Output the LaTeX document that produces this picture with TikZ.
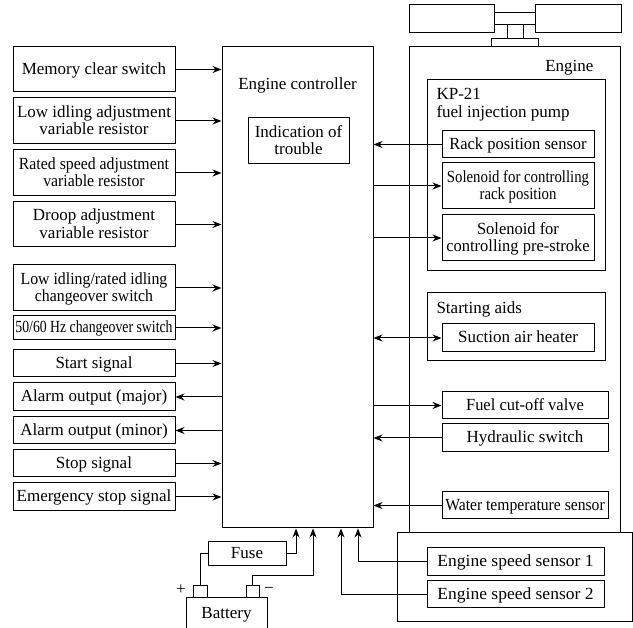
\documentclass[tikz,border=0pt]{standalone}
\usepackage{fontspec}
\setmainfont{Liberation Serif}
\usepackage{graphicx}
\usetikzlibrary{arrows.meta,calc}
\newcommand\tx[2][1]{\raisebox{-1.5pt}[\height][\depth]{\scalebox{#1}[1]{\begin{tabular}{@{}c@{}}#2\end{tabular}}}}
\begin{document}
\begin{tikzpicture}[x=1pt,y=-1pt,
  every node/.style={font=\fontsize{17}{17.5}\selectfont},
  box/.style={draw, line width=1pt, inner sep=0pt},
  ln/.style={line width=1pt},
  arr/.style={ln, -{Stealth[length=9pt,width=7pt]}},
  darr/.style={ln, {Stealth[length=9pt,width=7pt]}-{Stealth[length=9pt,width=7pt]}}]
\useasboundingbox (0,0) rectangle (633,628);
\fill[white] (0,0) rectangle (633,628);

% engine symbol on top
\draw[ln] (409,5) rectangle (494,33);
\draw[ln] (535,5) rectangle (621,33);
\draw[ln] (494,13) rectangle (535,25);
\draw[ln] (507,25) -- (507,39) (523,25) -- (523,39);
\draw[ln] (491,39) rectangle (538,47);

% engine controller
\node[box, minimum width=151pt, minimum height=481pt] (ctrl) at (297.5,287.5) {};
\node[anchor=base] (ctrllbl) at (297.5,90) {Engine controller};
\node[box, minimum width=101pt, minimum height=46pt] (ind) at (298.5,141) {\tx{Indication of\\trouble}};

% left boxes
\node[box, minimum width=162pt, minimum height=45pt] (mem) at (94,69.5) {\tx{Memory clear switch}};
\node[box, minimum width=162pt, minimum height=46pt] (lowadj) at (94,121) {\tx{Low idling adjustment\\variable resistor}};
\node[box, minimum width=162pt, minimum height=46pt] (rated) at (94,173) {\tx[0.93]{Rated speed adjustment\\variable resistor}};
\node[box, minimum width=162pt, minimum height=45pt] (droop) at (94,224.5) {\tx{Droop adjustment\\variable resistor}};
\node[box, minimum width=162pt, minimum height=46pt] (lowrated) at (94,288) {\tx[0.93]{Low idling/rated idling\\changeover switch}};
\node[box, minimum width=162pt, minimum height=24pt] (hz) at (94,328) {\tx[0.81]{50/60 Hz changeover switch}};
\node[box, minimum width=162pt, minimum height=27pt] (start) at (94,363.5) {\tx{Start signal}};
\node[box, minimum width=162pt, minimum height=28pt] (almaj) at (94,397) {\tx{Alarm output (major)}};
\node[box, minimum width=162pt, minimum height=27pt] (almin) at (94,430.5) {\tx{Alarm output (minor)}};
\node[box, minimum width=162pt, minimum height=27pt] (stop) at (94,463.5) {\tx{Stop signal}};
\node[box, minimum width=162pt, minimum height=28pt] (emerg) at (94,497) {\tx{Emergency stop signal}};

\foreach \n in {mem,lowadj,rated,droop,lowrated,hz,start,stop,emerg}
  \draw[arr] (\n.east) -- (\n.east -| ctrl.west);
\foreach \n in {almaj,almin}
  \draw[arr] (\n.east -| ctrl.west) -- (\n.east);

% engine
\node[box, minimum width=211pt, minimum height=486pt] (eng) at (514.5,290) {};
\node[anchor=base east] (englbl) at (597,72) {Engine};
\node[box, minimum width=178pt, minimum height=191pt] (kp) at (516,175.5) {};
\node[anchor=base west] (kplbl1) at (433,100) {KP-21};
\node[anchor=base west] (kplbl2) at (433,118) {fuel injection pump};
\node[box, minimum width=152pt, minimum height=27pt] (rack) at (518,144.5) {\tx[0.97]{Rack position sensor}};
\node[box, minimum width=152pt, minimum height=46pt] (solr) at (518,186) {\tx[0.87]{Solenoid for controlling\\rack position}};
\node[box, minimum width=152pt, minimum height=46pt] (solp) at (518,238) {\tx[0.97]{Solenoid for\\controlling pre-stroke}};
\node[box, minimum width=178pt, minimum height=68pt] (aids) at (516,327) {};
\node[anchor=base west] (aidslbl) at (433,314) {Starting aids};
\node[box, minimum width=152pt, minimum height=28pt] (suct) at (518,338) {\tx{Suction air heater}};
\node[box, minimum width=166pt, minimum height=27pt] (fuel) at (525,405.5) {\tx[0.97]{Fuel cut-off valve}};
\node[box, minimum width=166pt, minimum height=28pt] (hyd) at (525,438) {\tx{Hydraulic switch}};
\node[box, minimum width=166pt, minimum height=27pt] (water) at (525,505.5) {\tx[0.92]{Water temperature sensor}};

\draw[arr] (rack.west) -- (rack.west -| ctrl.east);
\draw[arr] (solr.west -| ctrl.east) -- (solr.west);
\draw[arr] (solp.west -| ctrl.east) -- (solp.west);
\draw[darr] (suct.west -| ctrl.east) -- (suct.west);
\draw[arr] (fuel.west -| ctrl.east) -- (fuel.west);
\draw[arr] (hyd.west) -- (hyd.west -| ctrl.east);
\draw[arr] (water.west) -- (water.west -| ctrl.east);

% engine speed sensors
\node[box, fill=white, minimum width=235pt, minimum height=89pt] (sens) at (514.5,577.5) {};
\node[box, minimum width=177pt, minimum height=28pt] (es1) at (515.5,562) {\tx[1.03]{Engine speed sensor 1}};
\node[box, minimum width=177pt, minimum height=27pt] (es2) at (515.5,594.5) {\tx[1.03]{Engine speed sensor 2}};
\coordinate (e1x) at (358,540);
\coordinate (e2x) at (341,540);
\draw[arr] (es1.west) -| (e1x |- ctrl.south);
\draw[arr] (es2.west) -| (e2x |- ctrl.south);

% battery and fuse
\node[box, minimum width=78pt, minimum height=24pt] (fuse) at (247,554) {\tx{Fuse}};
\node[box, minimum width=14pt, minimum height=12pt] (plus) at (200,592) {};
\node[box, minimum width=13pt, minimum height=12pt] (minus) at (252.5,592) {};
\draw[ln] (186,632) -- (186,598) -- (267,598) -- (267,632);
\node (batt) at (226.5,615) {Battery};
\node (pluslbl) at (181,590) {+};
\node (minuslbl) at (269,590) {\char"2212};
\coordinate (fx) at (296,554);
\coordinate (mx) at (313,576);
\draw[arr] (fuse.east) -| (fx |- ctrl.south);
\draw[ln] (fuse.west) -| (plus.north);
\draw[arr] (minus.north) |- (mx) -- (mx |- ctrl.south);
\end{tikzpicture}
\end{document}
